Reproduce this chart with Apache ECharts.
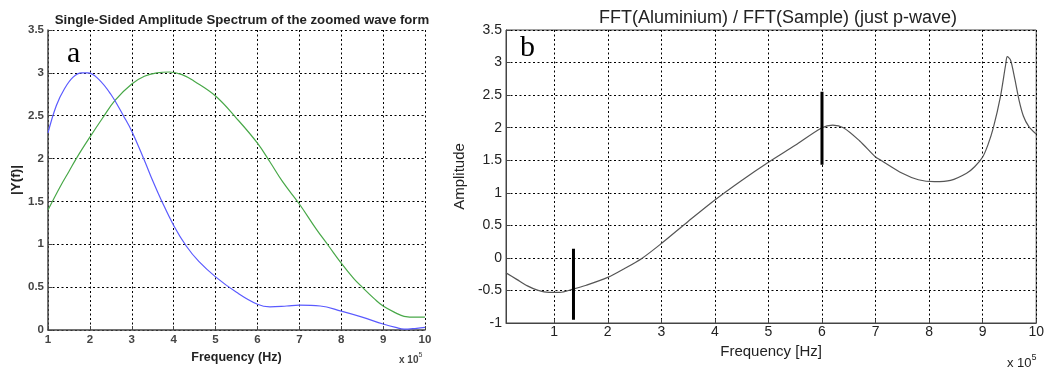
<!DOCTYPE html>
<html>
<head>
<meta charset="utf-8">
<script src="https://cdn.jsdelivr.net/npm/echarts@6/dist/echarts.min.js"></script>
<style>html,body{margin:0;padding:0;background:#fff;}#c{width:1047px;height:371px;}</style>
</head>
<body>
<div id="c"></div>
<script>
// ---- Panel a: Single-Sided Amplitude Spectrum (x in units of 1e5 Hz) ----
const blueX  = [1.0,1.2,1.4,1.6,1.8,1.95,2.2,2.5,2.8,3.0,3.3,3.5,3.7,4.0,4.3,4.6,5.0,5.5,6.0,6.3,6.7,7.0,7.5,8.0,8.5,9.0,9.3,9.5,9.8,10.0];
const blueY  = [2.30,2.62,2.82,2.95,3.00,3.00,2.93,2.75,2.50,2.32,1.98,1.74,1.52,1.22,0.98,0.80,0.62,0.44,0.30,0.27,0.28,0.29,0.28,0.22,0.15,0.07,0.03,0.01,0.02,0.03];
const greenX = [1.0,1.3,1.5,1.7,2.0,2.3,2.6,3.0,3.3,3.6,3.9,4.2,4.5,5.0,5.5,6.0,6.3,6.6,7.0,7.4,7.7,8.0,8.3,8.5,8.8,9.0,9.3,9.5,9.8,10.0];
const greenY = [1.40,1.68,1.85,2.02,2.25,2.47,2.68,2.87,2.96,3.00,3.01,2.98,2.90,2.73,2.47,2.18,1.96,1.73,1.47,1.18,0.98,0.78,0.60,0.50,0.36,0.28,0.20,0.16,0.15,0.15];
const leftXTicks = [1,2,3,4,5,6,7,8,9,10];

// ---- Panel b: FFT(Aluminium) / FFT(Sample) ----
const ratioX = [0.1,0.3,0.5,0.7,0.9,1.1,1.35,1.6,2.0,2.3,2.65,3.0,3.5,4.0,4.5,5.0,5.5,6.0,6.2,6.4,6.7,7.0,7.1,7.5,7.8,8.1,8.4,8.7,8.85,9.0,9.1,9.2,9.33,9.43,9.46,9.52,9.6,9.68,9.76,9.86,10.0];
const ratioY = [-0.23,-0.33,-0.43,-0.50,-0.53,-0.53,-0.48,-0.42,-0.30,-0.17,0.00,0.22,0.56,0.89,1.19,1.47,1.73,2.00,2.04,2.00,1.80,1.55,1.50,1.30,1.20,1.17,1.19,1.30,1.40,1.55,1.74,2.00,2.47,2.97,3.09,3.04,2.75,2.42,2.18,2.02,1.90];
const marker1X = [1.36,1.36];
const marker1Y = [-0.95,0.14];
const marker2X = [6.0,6.0];
const marker2Y = [1.43,2.55];
const rightXTicks = [1,2,3,4,5,6,7,8,9,10];

const zip = (xs, ys) => xs.map((x, i) => [x, ys[i]]);
const gridDash = [2, 2.5];
const sans = 'Liberation Sans, Arial, sans-serif';

const chart = echarts.init(document.getElementById('c'), null, {renderer: 'canvas'});
chart.setOption({
  animation: false,
  backgroundColor: '#fff',
  title: [
    {text: 'Single-Sided Amplitude Spectrum of the zoomed wave form', left: 237, textAlign: 'center', top: 9,
     textStyle: {fontFamily: sans, fontSize: 13.2, fontWeight: 'bold', color: '#222'}},
    {text: 'FFT(Aluminium) / FFT(Sample) (just p-wave)', left: 773, textAlign: 'center', top: 4,
     textStyle: {fontFamily: sans, fontSize: 18, fontWeight: 'normal', color: '#222'}}
  ],
  grid: [
    {left: 48, top: 30, width: 377, height: 300, show: false},
    {left: 506, top: 30, width: 534, height: 293, show: true, borderColor: '#444', borderWidth: 1, backgroundColor: 'transparent'}
  ],
  xAxis: [
    {gridIndex: 0, type: 'value', min: 1, max: 10, interval: 1,
     name: 'Frequency (Hz)', nameLocation: 'middle', nameGap: 21,
     nameTextStyle: {fontFamily: sans, fontSize: 12.5, fontWeight: 'bold', color: '#222'},
     axisLine: {show: true, onZero: false, lineStyle: {color: '#444', width: 1.5}},
     axisTick: {show: true, inside: true, length: 4, lineStyle: {color: '#444'}},
     axisLabel: {fontFamily: sans, fontSize: 11.5, fontWeight: 'bold', color: '#444', margin: 4},
     splitLine: {show: true, lineStyle: {color: '#000', type: gridDash, width: 1}}},
    {gridIndex: 1, type: 'value', min: 0.1, max: 10,
     name: 'Frequency [Hz]', nameLocation: 'middle', nameGap: 20,
     nameTextStyle: {fontFamily: sans, fontSize: 15, color: '#222'},
     axisLine: {show: true, onZero: false, lineStyle: {color: '#444', width: 1}},
     axisTick: {show: true, inside: true, length: 4, customValues: rightXTicks, lineStyle: {color: '#444'}},
     axisLabel: {fontFamily: sans, fontSize: 14, color: '#222', margin: 2, customValues: rightXTicks},
     splitLine: {show: true, lineStyle: {color: '#000', type: gridDash, width: 1}}}
  ],
  yAxis: [
    {gridIndex: 0, type: 'value', min: 0, max: 3.5, interval: 0.5,
     name: '|Y(f)|', nameLocation: 'middle', nameGap: 25,
     nameTextStyle: {fontFamily: sans, fontSize: 13.5, fontWeight: 'bold', color: '#222'},
     axisLine: {show: true, onZero: false, lineStyle: {color: '#444', width: 1.5}},
     axisTick: {show: true, inside: true, length: 4, lineStyle: {color: '#444'}},
     axisLabel: {fontFamily: sans, fontSize: 11.5, fontWeight: 'bold', color: '#444', margin: 4},
     splitLine: {show: true, lineStyle: {color: '#000', type: gridDash, width: 1}}},
    {gridIndex: 1, type: 'value', min: -1, max: 3.5, interval: 0.5,
     name: 'Amplitude', nameLocation: 'middle', nameGap: 37,
     nameTextStyle: {fontFamily: sans, fontSize: 15, color: '#222'},
     axisLine: {show: true, onZero: false, lineStyle: {color: '#444', width: 1}},
     axisTick: {show: true, inside: true, length: 4, lineStyle: {color: '#444'}},
     axisLabel: {fontFamily: sans, fontSize: 14, color: '#222', margin: 4},
     splitLine: {show: true, lineStyle: {color: '#000', type: gridDash, width: 1}}}
  ],
  series: [
    {type: 'line', xAxisIndex: 0, yAxisIndex: 0, data: zip(greenX, greenY), smooth: 0.4, symbol: 'none',
     lineStyle: {color: '#48a848', width: 1.2}},
    {type: 'line', xAxisIndex: 0, yAxisIndex: 0, data: zip(blueX, blueY), smooth: 0.4, symbol: 'none',
     lineStyle: {color: '#5a5aff', width: 1.2}},
    {type: 'line', xAxisIndex: 1, yAxisIndex: 1, data: zip(ratioX, ratioY), smooth: 0.3, symbol: 'none',
     lineStyle: {color: '#555', width: 1.2}},
    {type: 'line', xAxisIndex: 1, yAxisIndex: 1, data: zip(marker1X, marker1Y), symbol: 'none',
     lineStyle: {color: '#000', width: 3}},
    {type: 'line', xAxisIndex: 1, yAxisIndex: 1, data: zip(marker2X, marker2Y), symbol: 'none',
     lineStyle: {color: '#000', width: 3}}
  ],
  graphic: [
    {type: 'text', left: 67, top: 39, style: {text: 'a', font: '30px "Liberation Serif", serif', fill: '#000'}},
    {type: 'text', left: 520, top: 33, style: {text: 'b', font: '30px "Liberation Serif", serif', fill: '#000'}},
    {type: 'text', left: 399, top: 352, style: {
      text: '{b|x 10}{s|5}', rich: {
        b: {fontFamily: sans, fontSize: 10, fill: '#444', fontWeight: 'bold', verticalAlign: 'bottom'},
        s: {fontFamily: sans, fontSize: 7, fill: '#444', verticalAlign: 'top', padding: [0,0,6,0]}
      }}},
    {type: 'text', left: 1007, top: 353, style: {
      text: '{b|x 10}{s|5}', rich: {
        b: {fontFamily: sans, fontSize: 13, fill: '#222', verticalAlign: 'bottom'},
        s: {fontFamily: sans, fontSize: 9, fill: '#222', verticalAlign: 'top', padding: [0,0,8,0]}
      }}}
  ]
});
</script>
</body>
</html>
